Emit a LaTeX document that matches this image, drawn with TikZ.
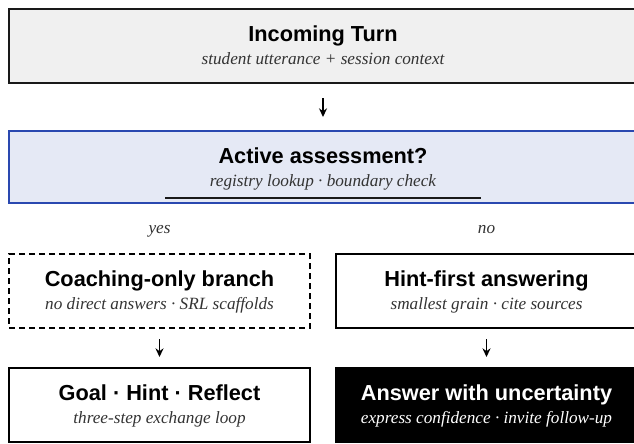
\documentclass[tikz,border=0pt]{standalone}
\usepackage{fontspec}
\setmainfont{Liberation Serif}
\setsansfont{Liberation Sans}
\usetikzlibrary{arrows.meta}
\definecolor{boxgray}{HTML}{F0F0F0}
\definecolor{boxblue}{HTML}{E5E9F5}
\definecolor{lineblue}{HTML}{2A48B0}
\definecolor{subgray}{HTML}{333333}
\begin{document}
\begin{tikzpicture}[x=0.75pt,y=-0.75pt,
  box/.style={draw, line width=1.5pt, minimum width=225.75pt, minimum height=55.5pt, inner sep=0pt},
  widebox/.style={box, minimum width=471pt},
  dashbox/.style={box, dash pattern=on 4.5pt off 3pt},
  title/.style={anchor=base, font=\sffamily\bfseries\fontsize{16.3}{18}\selectfont},
  sub/.style={anchor=base, text=subgray, font=\itshape\fontsize{12.9}{15}\selectfont},
  flow/.style={line width=1.4pt, -{Stealth[length=6.5pt,width=6pt]}}]
\useasboundingbox (0,0) rectangle (634,443);
\clip (0,0) rectangle (634,443);

% incoming turn
\node[widebox, fill=boxgray, draw=black!90] (turn) at (323,46) {};
\node[title] (turn-t) at (323,41) {Incoming Turn};
\node[sub] (turn-s) at (323,64) {student utterance + session context};

% assessment check
\node[widebox, fill=boxblue, draw=lineblue, minimum height=54pt] (assess) at (323,167) {};
\node[title] (assess-t) at (323,163) {Active assessment?};
\node[sub] (assess-s) at (323,186) {registry lookup · boundary check};
\draw[line width=1.5pt, black!90] (165,198) -- (481,198);

\node[sub] (yes) at (159.5,233) {yes};
\node[sub] (no) at (486.5,233) {no};

% branches
\node[dashbox] (coach) at (159.5,291) {};
\node[title] (coach-t) at (159.5,286) {Coaching-only branch};
\node[sub] (coach-s) at (159.5,309) {no direct answers · SRL scaffolds};

\node[box] (hint) at (486.5,291) {};
\node[title] (hint-t) at (486.5,286) {Hint-first answering};
\node[sub] (hint-s) at (486.5,309) {smallest grain · cite sources};

\node[box] (goal) at (159.5,405) {};
\node[title] (goal-t) at (159.5,400) {Goal · Hint · Reflect};
\node[sub] (goal-s) at (159.5,423) {three-step exchange loop};

\node[box, fill=black] (answer) at (486.5,405) {};
\node[title, text=white] (answer-t) at (486.5,400) {Answer with uncertainty};
\node[sub, text=white!90] (answer-s) at (486.5,423) {express confidence · invite follow-up};

\draw[flow, shorten <=10.5pt, shorten >=9.75pt] (turn) -- (assess);
\draw[flow, shorten <=7.5pt, shorten >=7.5pt] (coach) -- (goal);
\draw[flow, shorten <=7.5pt, shorten >=7.5pt] (hint) -- (answer);
\end{tikzpicture}
\end{document}
